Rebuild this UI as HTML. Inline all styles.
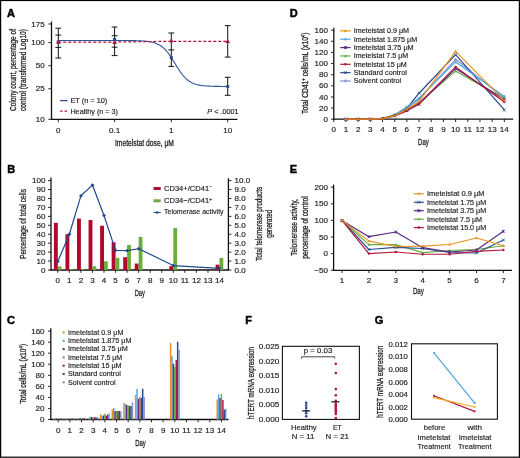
<!DOCTYPE html>
<html><head><meta charset="utf-8"><style>
html,body{margin:0;padding:0;background:#fff;}
svg{display:block;}
text{font-family:"Liberation Sans", sans-serif;fill:#1e1e1e;stroke:#1e1e1e;stroke-width:0.16px;}
svg{will-change:transform;}
text.c{stroke-width:0.3px;}
</style></head><body>
<svg width="520" height="458" viewBox="0 0 520 458">
<rect x="0" y="0" width="520" height="458" fill="#fff"/>
<text x="6.90" y="16.70" font-size="11" font-weight="bold" style="fill:#000;stroke:#000;stroke-width:0.45px">A</text>
<line x1="51.50" y1="21.50" x2="51.50" y2="119.80" stroke="#111" stroke-width="1.3" />
<line x1="50.90" y1="119.30" x2="237.40" y2="119.30" stroke="#111" stroke-width="1.3" />
<line x1="48.30" y1="23.96" x2="51.50" y2="23.96" stroke="#111" stroke-width="0.9" />
<text x="44.70" y="26.66" font-size="7.6" text-anchor="end" textLength="13.44" lengthAdjust="spacingAndGlyphs">175</text>
<line x1="48.30" y1="42.60" x2="51.50" y2="42.60" stroke="#111" stroke-width="0.9" />
<text x="44.70" y="45.30" font-size="7.6" text-anchor="end" textLength="13.44" lengthAdjust="spacingAndGlyphs">100</text>
<line x1="48.30" y1="65.69" x2="51.50" y2="65.69" stroke="#111" stroke-width="0.9" />
<text x="44.70" y="68.39" font-size="7.6" text-anchor="end" textLength="8.96" lengthAdjust="spacingAndGlyphs">50</text>
<line x1="48.30" y1="88.78" x2="51.50" y2="88.78" stroke="#111" stroke-width="0.9" />
<text x="44.70" y="91.48" font-size="7.6" text-anchor="end" textLength="8.96" lengthAdjust="spacingAndGlyphs">25</text>
<line x1="48.30" y1="119.30" x2="51.50" y2="119.30" stroke="#111" stroke-width="0.9" />
<text x="44.70" y="122.00" font-size="7.6" text-anchor="end" textLength="8.96" lengthAdjust="spacingAndGlyphs">10</text>
<line x1="58.30" y1="119.30" x2="58.30" y2="122.30" stroke="#111" stroke-width="0.9" />
<text x="58.30" y="132.70" font-size="7.6" text-anchor="middle" textLength="4.48" lengthAdjust="spacingAndGlyphs">0</text>
<line x1="114.60" y1="119.30" x2="114.60" y2="122.30" stroke="#111" stroke-width="0.9" />
<text x="114.60" y="132.70" font-size="7.6" text-anchor="middle" textLength="11.20" lengthAdjust="spacingAndGlyphs">0.1</text>
<line x1="171.30" y1="119.30" x2="171.30" y2="122.30" stroke="#111" stroke-width="0.9" />
<text x="171.30" y="132.70" font-size="7.6" text-anchor="middle" textLength="4.48" lengthAdjust="spacingAndGlyphs">1</text>
<line x1="227.70" y1="119.30" x2="227.70" y2="122.30" stroke="#111" stroke-width="0.9" />
<text x="227.70" y="132.70" font-size="7.6" text-anchor="middle" textLength="8.96" lengthAdjust="spacingAndGlyphs">10</text>
<text x="114.90" y="145.80" font-size="9.6" class="c" textLength="59.00" lengthAdjust="spacingAndGlyphs">Imetelstat dose, &#956;M</text>
<text class="c" transform="translate(15.60,70.00) rotate(-90)" x="0" y="0" font-size="9.4" text-anchor="middle" textLength="82.00" lengthAdjust="spacingAndGlyphs" fill="#222">Colony count, percentage of</text>
<text class="c" transform="translate(26.10,70.00) rotate(-90)" x="0" y="0" font-size="9.4" text-anchor="middle" textLength="82.00" lengthAdjust="spacingAndGlyphs" fill="#222">control (transformed Log10)</text>
<line x1="58.30" y1="28.20" x2="58.30" y2="58.00" stroke="#111" stroke-width="1.0" />
<line x1="55.40" y1="28.20" x2="61.20" y2="28.20" stroke="#111" stroke-width="1.0" />
<line x1="55.40" y1="35.10" x2="61.20" y2="35.10" stroke="#111" stroke-width="1.0" />
<line x1="55.40" y1="47.40" x2="61.20" y2="47.40" stroke="#111" stroke-width="1.0" />
<line x1="55.40" y1="58.00" x2="61.20" y2="58.00" stroke="#111" stroke-width="1.0" />
<line x1="114.60" y1="27.00" x2="114.60" y2="55.60" stroke="#111" stroke-width="1.0" />
<line x1="111.70" y1="27.00" x2="117.50" y2="27.00" stroke="#111" stroke-width="1.0" />
<line x1="111.70" y1="35.70" x2="117.50" y2="35.70" stroke="#111" stroke-width="1.0" />
<line x1="111.70" y1="47.20" x2="117.50" y2="47.20" stroke="#111" stroke-width="1.0" />
<line x1="111.70" y1="55.60" x2="117.50" y2="55.60" stroke="#111" stroke-width="1.0" />
<line x1="171.30" y1="33.00" x2="171.30" y2="66.40" stroke="#111" stroke-width="1.0" />
<line x1="168.40" y1="33.00" x2="174.20" y2="33.00" stroke="#111" stroke-width="1.0" />
<line x1="168.40" y1="49.90" x2="174.20" y2="49.90" stroke="#111" stroke-width="1.0" />
<line x1="168.40" y1="66.40" x2="174.20" y2="66.40" stroke="#111" stroke-width="1.0" />
<line x1="227.70" y1="25.60" x2="227.70" y2="57.10" stroke="#111" stroke-width="1.0" />
<line x1="224.80" y1="25.60" x2="230.60" y2="25.60" stroke="#111" stroke-width="1.0" />
<line x1="224.80" y1="57.10" x2="230.60" y2="57.10" stroke="#111" stroke-width="1.0" />
<line x1="227.70" y1="77.30" x2="227.70" y2="95.30" stroke="#111" stroke-width="1.0" />
<line x1="224.80" y1="77.30" x2="230.60" y2="77.30" stroke="#111" stroke-width="1.0" />
<line x1="224.80" y1="95.30" x2="230.60" y2="95.30" stroke="#111" stroke-width="1.0" />
<polyline points="58.30,40.50 59.30,40.50 60.30,40.50 61.30,40.50 62.30,40.50 63.30,40.50 64.30,40.50 65.30,40.50 66.30,40.50 67.30,40.50 68.30,40.50 69.30,40.50 70.30,40.50 71.30,40.50 72.30,40.50 73.30,40.50 74.30,40.50 75.30,40.50 76.30,40.50 77.30,40.50 78.30,40.50 79.30,40.50 80.30,40.50 81.30,40.50 82.30,40.50 83.30,40.50 84.30,40.50 85.30,40.50 86.30,40.50 87.30,40.50 88.30,40.50 89.30,40.50 90.30,40.50 91.30,40.50 92.30,40.50 93.30,40.50 94.30,40.50 95.30,40.50 96.30,40.50 97.30,40.50 98.30,40.50 99.30,40.50 100.30,40.50 101.30,40.50 102.30,40.50 103.30,40.50 104.30,40.50 105.30,40.50 106.30,40.50 107.30,40.50 108.30,40.50 109.30,40.50 110.30,40.50 111.30,40.51 112.30,40.51 113.30,40.51 114.30,40.51 115.30,40.51 116.30,40.51 117.30,40.51 118.30,40.51 119.30,40.52 120.30,40.52 121.30,40.52 122.30,40.52 123.30,40.53 124.30,40.53 125.30,40.54 126.30,40.54 127.30,40.55 128.30,40.56 129.30,40.57 130.30,40.58 131.30,40.59 132.30,40.60 133.30,40.62 134.30,40.64 135.30,40.66 136.30,40.68 137.30,40.71 138.30,40.74 139.30,40.78 140.30,40.82 141.30,40.87 142.30,40.93 143.30,40.99 144.30,41.07 145.30,41.15 146.30,41.25 147.30,41.36 148.30,41.49 149.30,41.64 150.30,41.81 151.30,42.01 152.30,42.23 153.30,42.48 154.30,42.77 155.30,43.10 156.30,43.48 157.30,43.90 158.30,44.38 159.30,44.91 160.30,45.52 161.30,46.19 162.30,46.95 163.30,47.78 164.30,48.70 165.30,49.70 166.30,50.80 167.30,51.99 168.30,53.26 169.30,54.62 170.30,56.06 171.30,57.56 172.30,59.12 173.30,60.72 174.30,62.35 175.30,63.99 176.30,65.63 177.30,67.24 178.30,68.82 179.30,70.35 180.30,71.81 181.30,73.20 182.30,74.51 183.30,75.73 184.30,76.87 185.30,77.91 186.30,78.86 187.30,79.73 188.30,80.52 189.30,81.22 190.30,81.85 191.30,82.42 192.30,82.92 193.30,83.36 194.30,83.75 195.30,84.10 196.30,84.41 197.30,84.67 198.30,84.91 199.30,85.11 200.30,85.29 201.30,85.45 202.30,85.59 203.30,85.71 204.30,85.81 205.30,85.90 206.30,85.98 207.30,86.05 208.30,86.11 209.30,86.16 210.30,86.20 211.30,86.24 212.30,86.28 213.30,86.31 214.30,86.33 215.30,86.36 216.30,86.37 217.30,86.39 218.30,86.41 219.30,86.42 220.30,86.43 221.30,86.44 222.30,86.45 223.30,86.45 224.30,86.46 225.30,86.47 226.30,86.47 227.30,86.47 227.70,86.48" fill="none" stroke="#2f55a0" stroke-width="1.1" stroke-linejoin="round" />
<polyline points="58.30,42.00 114.60,42.00 171.30,41.30 227.70,41.30" fill="none" stroke="#a8123c" stroke-width="1.25" stroke-linejoin="round" stroke-dasharray="3,2"/>
<rect x="56.70" y="40.30" width="3.2" height="3.2" rx="0.8" fill="#2a4f96"/>
<rect x="113.00" y="37.70" width="3.2" height="3.2" rx="0.8" fill="#2a4f96"/>
<rect x="169.70" y="56.00" width="3.2" height="3.2" rx="0.8" fill="#2a4f96"/>
<rect x="226.10" y="84.90" width="3.2" height="3.2" rx="0.8" fill="#2a4f96"/>
<path d="M56.00,43.80L60.60,43.80L58.30,39.90Z" fill="#b5123a"/>
<path d="M112.30,44.00L116.90,44.00L114.60,40.10Z" fill="#b5123a"/>
<path d="M169.00,42.20L173.60,42.20L171.30,38.30Z" fill="#b5123a"/>
<path d="M225.40,43.00L230.00,43.00L227.70,39.10Z" fill="#b5123a"/>
<line x1="60.10" y1="100.60" x2="67.60" y2="100.60" stroke="#2a4f96" stroke-width="1.3" />
<line x1="60.10" y1="111.20" x2="67.60" y2="111.20" stroke="#b8173d" stroke-width="1.3" stroke-dasharray="2.6,1.8"/>
<text x="70.40" y="102.90" font-size="7.3" textLength="36.90" lengthAdjust="spacingAndGlyphs">ET (n = 10)</text>
<text x="70.40" y="113.80" font-size="7.3" textLength="47.60" lengthAdjust="spacingAndGlyphs">Healthy (n = 3)</text>
<text x="207.30" y="113.50" font-size="7.3" textLength="31.20" lengthAdjust="spacingAndGlyphs"><tspan font-style="italic">P</tspan> &lt; .0001</text>
<text x="289.70" y="16.70" font-size="11" font-weight="bold" style="fill:#000;stroke:#000;stroke-width:0.45px">D</text>
<line x1="333.80" y1="27.70" x2="333.80" y2="119.70" stroke="#111" stroke-width="1.3" />
<line x1="333.30" y1="119.20" x2="513.20" y2="119.20" stroke="#111" stroke-width="1.3" />
<line x1="331.00" y1="119.20" x2="333.80" y2="119.20" stroke="#111" stroke-width="0.9" />
<text x="328.00" y="121.80" font-size="7.6" text-anchor="end" textLength="4.48" lengthAdjust="spacingAndGlyphs">0</text>
<line x1="331.00" y1="108.07" x2="333.80" y2="108.07" stroke="#111" stroke-width="0.9" />
<text x="328.00" y="110.67" font-size="7.6" text-anchor="end" textLength="8.96" lengthAdjust="spacingAndGlyphs">20</text>
<line x1="331.00" y1="96.95" x2="333.80" y2="96.95" stroke="#111" stroke-width="0.9" />
<text x="328.00" y="99.55" font-size="7.6" text-anchor="end" textLength="8.96" lengthAdjust="spacingAndGlyphs">40</text>
<line x1="331.00" y1="85.82" x2="333.80" y2="85.82" stroke="#111" stroke-width="0.9" />
<text x="328.00" y="88.42" font-size="7.6" text-anchor="end" textLength="8.96" lengthAdjust="spacingAndGlyphs">60</text>
<line x1="331.00" y1="74.70" x2="333.80" y2="74.70" stroke="#111" stroke-width="0.9" />
<text x="328.00" y="77.30" font-size="7.6" text-anchor="end" textLength="8.96" lengthAdjust="spacingAndGlyphs">80</text>
<line x1="331.00" y1="63.57" x2="333.80" y2="63.57" stroke="#111" stroke-width="0.9" />
<text x="328.00" y="66.17" font-size="7.6" text-anchor="end" textLength="13.44" lengthAdjust="spacingAndGlyphs">100</text>
<line x1="331.00" y1="52.44" x2="333.80" y2="52.44" stroke="#111" stroke-width="0.9" />
<text x="328.00" y="55.04" font-size="7.6" text-anchor="end" textLength="13.44" lengthAdjust="spacingAndGlyphs">120</text>
<line x1="331.00" y1="41.32" x2="333.80" y2="41.32" stroke="#111" stroke-width="0.9" />
<text x="328.00" y="43.92" font-size="7.6" text-anchor="end" textLength="13.44" lengthAdjust="spacingAndGlyphs">140</text>
<line x1="331.00" y1="30.19" x2="333.80" y2="30.19" stroke="#111" stroke-width="0.9" />
<text x="328.00" y="32.79" font-size="7.6" text-anchor="end" textLength="13.44" lengthAdjust="spacingAndGlyphs">160</text>
<line x1="333.80" y1="119.20" x2="333.80" y2="122.00" stroke="#111" stroke-width="0.9" />
<text x="333.80" y="132.30" font-size="7.6" text-anchor="middle" textLength="4.48" lengthAdjust="spacingAndGlyphs">0</text>
<line x1="345.98" y1="119.20" x2="345.98" y2="122.00" stroke="#111" stroke-width="0.9" />
<text x="345.98" y="132.30" font-size="7.6" text-anchor="middle" textLength="4.48" lengthAdjust="spacingAndGlyphs">1</text>
<line x1="358.16" y1="119.20" x2="358.16" y2="122.00" stroke="#111" stroke-width="0.9" />
<text x="358.16" y="132.30" font-size="7.6" text-anchor="middle" textLength="4.48" lengthAdjust="spacingAndGlyphs">2</text>
<line x1="370.34" y1="119.20" x2="370.34" y2="122.00" stroke="#111" stroke-width="0.9" />
<text x="370.34" y="132.30" font-size="7.6" text-anchor="middle" textLength="4.48" lengthAdjust="spacingAndGlyphs">3</text>
<line x1="382.52" y1="119.20" x2="382.52" y2="122.00" stroke="#111" stroke-width="0.9" />
<text x="382.52" y="132.30" font-size="7.6" text-anchor="middle" textLength="4.48" lengthAdjust="spacingAndGlyphs">4</text>
<line x1="394.70" y1="119.20" x2="394.70" y2="122.00" stroke="#111" stroke-width="0.9" />
<text x="394.70" y="132.30" font-size="7.6" text-anchor="middle" textLength="4.48" lengthAdjust="spacingAndGlyphs">5</text>
<line x1="406.88" y1="119.20" x2="406.88" y2="122.00" stroke="#111" stroke-width="0.9" />
<text x="406.88" y="132.30" font-size="7.6" text-anchor="middle" textLength="4.48" lengthAdjust="spacingAndGlyphs">6</text>
<line x1="419.06" y1="119.20" x2="419.06" y2="122.00" stroke="#111" stroke-width="0.9" />
<text x="419.06" y="132.30" font-size="7.6" text-anchor="middle" textLength="4.48" lengthAdjust="spacingAndGlyphs">7</text>
<line x1="431.24" y1="119.20" x2="431.24" y2="122.00" stroke="#111" stroke-width="0.9" />
<text x="431.24" y="132.30" font-size="7.6" text-anchor="middle" textLength="4.48" lengthAdjust="spacingAndGlyphs">8</text>
<line x1="443.42" y1="119.20" x2="443.42" y2="122.00" stroke="#111" stroke-width="0.9" />
<text x="443.42" y="132.30" font-size="7.6" text-anchor="middle" textLength="4.48" lengthAdjust="spacingAndGlyphs">9</text>
<line x1="455.60" y1="119.20" x2="455.60" y2="122.00" stroke="#111" stroke-width="0.9" />
<text x="455.60" y="132.30" font-size="7.6" text-anchor="middle" textLength="8.96" lengthAdjust="spacingAndGlyphs">10</text>
<line x1="467.78" y1="119.20" x2="467.78" y2="122.00" stroke="#111" stroke-width="0.9" />
<text x="467.78" y="132.30" font-size="7.6" text-anchor="middle" textLength="8.36" lengthAdjust="spacingAndGlyphs">11</text>
<line x1="479.96" y1="119.20" x2="479.96" y2="122.00" stroke="#111" stroke-width="0.9" />
<text x="479.96" y="132.30" font-size="7.6" text-anchor="middle" textLength="8.96" lengthAdjust="spacingAndGlyphs">12</text>
<line x1="492.14" y1="119.20" x2="492.14" y2="122.00" stroke="#111" stroke-width="0.9" />
<text x="492.14" y="132.30" font-size="7.6" text-anchor="middle" textLength="8.96" lengthAdjust="spacingAndGlyphs">13</text>
<line x1="504.32" y1="119.20" x2="504.32" y2="122.00" stroke="#111" stroke-width="0.9" />
<text x="504.32" y="132.30" font-size="7.6" text-anchor="middle" textLength="8.96" lengthAdjust="spacingAndGlyphs">14</text>
<text x="418.00" y="145.40" font-size="9.8" class="c" textLength="10.80" lengthAdjust="spacingAndGlyphs">Day</text>
<text class="c" transform="translate(308.30,73.20) rotate(-90)" x="0" y="0" font-size="9.4" text-anchor="middle" textLength="81.40" lengthAdjust="spacingAndGlyphs" fill="#222">Total CD41<tspan dy="-3" font-size="6">+</tspan><tspan dy="3"> cells/mL (x10</tspan><tspan dy="-3" font-size="6">4</tspan><tspan dy="3">)</tspan></text>
<polyline points="345.98,119.20 358.16,119.20 370.34,119.20 382.52,118.64 394.70,114.75 406.88,108.07 419.06,99.17 455.60,59.34 504.32,98.06" fill="none" stroke="#8290cc" stroke-width="1.2" stroke-linejoin="round" />
<polyline points="345.98,119.20 358.16,119.20 370.34,119.20 382.52,118.64 394.70,115.31 406.88,108.07 419.06,93.22 455.60,54.67 504.32,109.97" fill="none" stroke="#27488c" stroke-width="1.2" stroke-linejoin="round" />
<polyline points="345.98,119.20 358.16,119.20 370.34,119.20 382.52,118.64 394.70,114.75 406.88,106.96 419.06,98.06 455.60,61.90 504.32,96.39" fill="none" stroke="#4ea6e2" stroke-width="1.2" stroke-linejoin="round" />
<polyline points="345.98,119.20 358.16,119.20 370.34,119.20 382.52,118.64 394.70,115.31 406.88,109.19 419.06,102.51 455.60,71.08 504.32,98.62" fill="none" stroke="#5fae3c" stroke-width="1.2" stroke-linejoin="round" />
<polyline points="345.98,119.20 358.16,119.20 370.34,119.20 382.52,118.64 394.70,115.86 406.88,110.30 419.06,104.18 455.60,68.58 504.32,99.73" fill="none" stroke="#5a2a84" stroke-width="1.2" stroke-linejoin="round" />
<polyline points="345.98,119.20 358.16,119.20 370.34,119.20 382.52,118.64 394.70,115.86 406.88,110.86 419.06,103.62 455.60,66.91 504.32,101.95" fill="none" stroke="#b3173d" stroke-width="1.2" stroke-linejoin="round" />
<polyline points="345.98,119.20 358.16,119.20 370.34,119.20 382.52,118.64 394.70,115.86 406.88,109.19 419.06,101.40 455.60,51.33 504.32,100.56" fill="none" stroke="#e9931f" stroke-width="1.2" stroke-linejoin="round" />
<path d="M344.58,119.20H347.38M345.98,117.80V120.60" stroke="#8290cc" stroke-width="0.9"/>
<path d="M356.76,119.20H359.56M358.16,117.80V120.60" stroke="#8290cc" stroke-width="0.9"/>
<path d="M368.94,119.20H371.74M370.34,117.80V120.60" stroke="#8290cc" stroke-width="0.9"/>
<path d="M381.12,118.64H383.92M382.52,117.24V120.04" stroke="#8290cc" stroke-width="0.9"/>
<path d="M393.30,114.75H396.10M394.70,113.35V116.15" stroke="#8290cc" stroke-width="0.9"/>
<path d="M405.48,108.07H408.28M406.88,106.67V109.47" stroke="#8290cc" stroke-width="0.9"/>
<path d="M417.66,99.17H420.46M419.06,97.77V100.57" stroke="#8290cc" stroke-width="0.9"/>
<path d="M454.20,59.34H457.00M455.60,57.94V60.74" stroke="#8290cc" stroke-width="0.9"/>
<path d="M502.92,98.06H505.72M504.32,96.66V99.46" stroke="#8290cc" stroke-width="0.9"/>
<path d="M344.58,117.80L347.38,120.60M344.58,120.60L347.38,117.80" stroke="#27488c" stroke-width="0.9"/>
<path d="M356.76,117.80L359.56,120.60M356.76,120.60L359.56,117.80" stroke="#27488c" stroke-width="0.9"/>
<path d="M368.94,117.80L371.74,120.60M368.94,120.60L371.74,117.80" stroke="#27488c" stroke-width="0.9"/>
<path d="M381.12,117.24L383.92,120.04M381.12,120.04L383.92,117.24" stroke="#27488c" stroke-width="0.9"/>
<path d="M393.30,113.91L396.10,116.71M393.30,116.71L396.10,113.91" stroke="#27488c" stroke-width="0.9"/>
<path d="M405.48,106.67L408.28,109.47M405.48,109.47L408.28,106.67" stroke="#27488c" stroke-width="0.9"/>
<path d="M417.66,91.82L420.46,94.62M417.66,94.62L420.46,91.82" stroke="#27488c" stroke-width="0.9"/>
<path d="M454.20,53.27L457.00,56.07M454.20,56.07L457.00,53.27" stroke="#27488c" stroke-width="0.9"/>
<path d="M502.92,108.57L505.72,111.37M502.92,111.37L505.72,108.57" stroke="#27488c" stroke-width="0.9"/>
<path d="M344.58,119.20H347.38M345.98,117.80V120.60" stroke="#4ea6e2" stroke-width="0.9"/>
<path d="M356.76,119.20H359.56M358.16,117.80V120.60" stroke="#4ea6e2" stroke-width="0.9"/>
<path d="M368.94,119.20H371.74M370.34,117.80V120.60" stroke="#4ea6e2" stroke-width="0.9"/>
<path d="M381.12,118.64H383.92M382.52,117.24V120.04" stroke="#4ea6e2" stroke-width="0.9"/>
<path d="M393.30,114.75H396.10M394.70,113.35V116.15" stroke="#4ea6e2" stroke-width="0.9"/>
<path d="M405.48,106.96H408.28M406.88,105.56V108.36" stroke="#4ea6e2" stroke-width="0.9"/>
<path d="M417.66,98.06H420.46M419.06,96.66V99.46" stroke="#4ea6e2" stroke-width="0.9"/>
<path d="M454.20,61.90H457.00M455.60,60.50V63.30" stroke="#4ea6e2" stroke-width="0.9"/>
<path d="M502.92,96.39H505.72M504.32,94.99V97.79" stroke="#4ea6e2" stroke-width="0.9"/>
<path d="M344.58,120.32L347.38,120.32L345.98,117.80Z" fill="#5fae3c"/>
<path d="M356.76,120.32L359.56,120.32L358.16,117.80Z" fill="#5fae3c"/>
<path d="M368.94,120.32L371.74,120.32L370.34,117.80Z" fill="#5fae3c"/>
<path d="M381.12,119.76L383.92,119.76L382.52,117.24Z" fill="#5fae3c"/>
<path d="M393.30,116.43L396.10,116.43L394.70,113.91Z" fill="#5fae3c"/>
<path d="M405.48,110.31L408.28,110.31L406.88,107.79Z" fill="#5fae3c"/>
<path d="M417.66,103.63L420.46,103.63L419.06,101.11Z" fill="#5fae3c"/>
<path d="M454.20,72.20L457.00,72.20L455.60,69.68Z" fill="#5fae3c"/>
<path d="M502.92,99.74L505.72,99.74L504.32,97.22Z" fill="#5fae3c"/>
<path d="M344.58,117.80L347.38,120.60M344.58,120.60L347.38,117.80M345.98,117.80V120.60" stroke="#5a2a84" stroke-width="0.9"/>
<path d="M356.76,117.80L359.56,120.60M356.76,120.60L359.56,117.80M358.16,117.80V120.60" stroke="#5a2a84" stroke-width="0.9"/>
<path d="M368.94,117.80L371.74,120.60M368.94,120.60L371.74,117.80M370.34,117.80V120.60" stroke="#5a2a84" stroke-width="0.9"/>
<path d="M381.12,117.24L383.92,120.04M381.12,120.04L383.92,117.24M382.52,117.24V120.04" stroke="#5a2a84" stroke-width="0.9"/>
<path d="M393.30,114.46L396.10,117.26M393.30,117.26L396.10,114.46M394.70,114.46V117.26" stroke="#5a2a84" stroke-width="0.9"/>
<path d="M405.48,108.90L408.28,111.70M405.48,111.70L408.28,108.90M406.88,108.90V111.70" stroke="#5a2a84" stroke-width="0.9"/>
<path d="M417.66,102.78L420.46,105.58M417.66,105.58L420.46,102.78M419.06,102.78V105.58" stroke="#5a2a84" stroke-width="0.9"/>
<path d="M454.20,67.18L457.00,69.98M454.20,69.98L457.00,67.18M455.60,67.18V69.98" stroke="#5a2a84" stroke-width="0.9"/>
<path d="M502.92,98.33L505.72,101.13M502.92,101.13L505.72,98.33M504.32,98.33V101.13" stroke="#5a2a84" stroke-width="0.9"/>
<circle cx="345.98" cy="119.20" r="1.19" fill="#b3173d"/>
<circle cx="358.16" cy="119.20" r="1.19" fill="#b3173d"/>
<circle cx="370.34" cy="119.20" r="1.19" fill="#b3173d"/>
<circle cx="382.52" cy="118.64" r="1.19" fill="#b3173d"/>
<circle cx="394.70" cy="115.86" r="1.19" fill="#b3173d"/>
<circle cx="406.88" cy="110.86" r="1.19" fill="#b3173d"/>
<circle cx="419.06" cy="103.62" r="1.19" fill="#b3173d"/>
<circle cx="455.60" cy="66.91" r="1.19" fill="#b3173d"/>
<circle cx="504.32" cy="101.95" r="1.19" fill="#b3173d"/>
<path d="M344.58,119.20L345.98,117.80L347.38,119.20L345.98,120.60Z" fill="#e9931f"/>
<path d="M356.76,119.20L358.16,117.80L359.56,119.20L358.16,120.60Z" fill="#e9931f"/>
<path d="M368.94,119.20L370.34,117.80L371.74,119.20L370.34,120.60Z" fill="#e9931f"/>
<path d="M381.12,118.64L382.52,117.24L383.92,118.64L382.52,120.04Z" fill="#e9931f"/>
<path d="M393.30,115.86L394.70,114.46L396.10,115.86L394.70,117.26Z" fill="#e9931f"/>
<path d="M405.48,109.19L406.88,107.79L408.28,109.19L406.88,110.59Z" fill="#e9931f"/>
<path d="M417.66,101.40L419.06,100.00L420.46,101.40L419.06,102.80Z" fill="#e9931f"/>
<path d="M454.20,51.33L455.60,49.93L457.00,51.33L455.60,52.73Z" fill="#e9931f"/>
<path d="M502.92,100.56L504.32,99.16L505.72,100.56L504.32,101.96Z" fill="#e9931f"/>
<line x1="340.20" y1="30.90" x2="350.60" y2="30.90" stroke="#e9931f" stroke-width="1.2" />
<path d="M343.90,30.90L345.40,29.40L346.90,30.90L345.40,32.40Z" fill="#e9931f"/>
<text x="353.70" y="33.30" font-size="7.5" textLength="55.40" lengthAdjust="spacingAndGlyphs">Imetelstat 0.9 &#956;M</text>
<line x1="340.20" y1="39.25" x2="350.60" y2="39.25" stroke="#4ea6e2" stroke-width="1.2" />
<path d="M343.90,39.25H346.90M345.40,37.75V40.75" stroke="#4ea6e2" stroke-width="0.9"/>
<text x="353.70" y="41.65" font-size="7.5" textLength="63.50" lengthAdjust="spacingAndGlyphs">Imetelstat 1.875 &#956;M</text>
<line x1="340.20" y1="47.60" x2="350.60" y2="47.60" stroke="#5a2a84" stroke-width="1.2" />
<path d="M343.90,46.10L346.90,49.10M343.90,49.10L346.90,46.10M345.40,46.10V49.10" stroke="#5a2a84" stroke-width="0.9"/>
<text x="353.70" y="50.00" font-size="7.5" textLength="60.00" lengthAdjust="spacingAndGlyphs">Imetelstat 3.75 &#956;M</text>
<line x1="340.20" y1="55.95" x2="350.60" y2="55.95" stroke="#5fae3c" stroke-width="1.2" />
<path d="M343.90,57.15L346.90,57.15L345.40,54.45Z" fill="#5fae3c"/>
<text x="353.70" y="58.35" font-size="7.5" textLength="54.50" lengthAdjust="spacingAndGlyphs">Imetelstat 7.5 &#956;M</text>
<line x1="340.20" y1="64.30" x2="350.60" y2="64.30" stroke="#b3173d" stroke-width="1.2" />
<circle cx="345.40" cy="64.30" r="1.27" fill="#b3173d"/>
<text x="353.70" y="66.70" font-size="7.5" textLength="53.10" lengthAdjust="spacingAndGlyphs">Imetelstat 15 &#956;M</text>
<line x1="340.20" y1="72.65" x2="350.60" y2="72.65" stroke="#27488c" stroke-width="1.2" />
<path d="M343.90,71.15L346.90,74.15M343.90,74.15L346.90,71.15" stroke="#27488c" stroke-width="0.9"/>
<text x="353.70" y="75.05" font-size="7.5" textLength="53.10" lengthAdjust="spacingAndGlyphs">Standard control</text>
<line x1="340.20" y1="81.00" x2="350.60" y2="81.00" stroke="#8290cc" stroke-width="1.2" />
<path d="M343.90,81.00H346.90M345.40,79.50V82.50" stroke="#8290cc" stroke-width="0.9"/>
<text x="353.70" y="83.40" font-size="7.5" textLength="47.50" lengthAdjust="spacingAndGlyphs">Solvent control</text>
<text x="7.30" y="173.10" font-size="11" font-weight="bold" style="fill:#000;stroke:#000;stroke-width:0.45px">B</text>
<line x1="51.00" y1="177.40" x2="51.00" y2="270.50" stroke="#111" stroke-width="1.3" />
<line x1="50.50" y1="270.00" x2="228.90" y2="270.00" stroke="#111" stroke-width="1.3" />
<line x1="228.40" y1="178.30" x2="228.40" y2="270.50" stroke="#111" stroke-width="1.3" />
<line x1="48.00" y1="270.00" x2="51.00" y2="270.00" stroke="#111" stroke-width="0.9" />
<text x="45.40" y="272.60" font-size="7.6" text-anchor="end" textLength="4.48" lengthAdjust="spacingAndGlyphs">0</text>
<line x1="228.40" y1="270.00" x2="231.40" y2="270.00" stroke="#111" stroke-width="0.9" />
<text x="234.60" y="272.60" font-size="7.6" textLength="11.20" lengthAdjust="spacingAndGlyphs">0.0</text>
<line x1="48.00" y1="261.06" x2="51.00" y2="261.06" stroke="#111" stroke-width="0.9" />
<text x="45.40" y="263.66" font-size="7.6" text-anchor="end" textLength="8.96" lengthAdjust="spacingAndGlyphs">10</text>
<line x1="228.40" y1="261.06" x2="231.40" y2="261.06" stroke="#111" stroke-width="0.9" />
<text x="234.60" y="263.66" font-size="7.6" textLength="11.20" lengthAdjust="spacingAndGlyphs">1.0</text>
<line x1="48.00" y1="252.12" x2="51.00" y2="252.12" stroke="#111" stroke-width="0.9" />
<text x="45.40" y="254.72" font-size="7.6" text-anchor="end" textLength="8.96" lengthAdjust="spacingAndGlyphs">20</text>
<line x1="228.40" y1="252.12" x2="231.40" y2="252.12" stroke="#111" stroke-width="0.9" />
<text x="234.60" y="254.72" font-size="7.6" textLength="11.20" lengthAdjust="spacingAndGlyphs">2.0</text>
<line x1="48.00" y1="243.18" x2="51.00" y2="243.18" stroke="#111" stroke-width="0.9" />
<text x="45.40" y="245.78" font-size="7.6" text-anchor="end" textLength="8.96" lengthAdjust="spacingAndGlyphs">30</text>
<line x1="228.40" y1="243.18" x2="231.40" y2="243.18" stroke="#111" stroke-width="0.9" />
<text x="234.60" y="245.78" font-size="7.6" textLength="11.20" lengthAdjust="spacingAndGlyphs">3.0</text>
<line x1="48.00" y1="234.24" x2="51.00" y2="234.24" stroke="#111" stroke-width="0.9" />
<text x="45.40" y="236.84" font-size="7.6" text-anchor="end" textLength="8.96" lengthAdjust="spacingAndGlyphs">40</text>
<line x1="228.40" y1="234.24" x2="231.40" y2="234.24" stroke="#111" stroke-width="0.9" />
<text x="234.60" y="236.84" font-size="7.6" textLength="11.20" lengthAdjust="spacingAndGlyphs">4.0</text>
<line x1="48.00" y1="225.30" x2="51.00" y2="225.30" stroke="#111" stroke-width="0.9" />
<text x="45.40" y="227.90" font-size="7.6" text-anchor="end" textLength="8.96" lengthAdjust="spacingAndGlyphs">50</text>
<line x1="228.40" y1="225.30" x2="231.40" y2="225.30" stroke="#111" stroke-width="0.9" />
<text x="234.60" y="227.90" font-size="7.6" textLength="11.20" lengthAdjust="spacingAndGlyphs">5.0</text>
<line x1="48.00" y1="216.36" x2="51.00" y2="216.36" stroke="#111" stroke-width="0.9" />
<text x="45.40" y="218.96" font-size="7.6" text-anchor="end" textLength="8.96" lengthAdjust="spacingAndGlyphs">60</text>
<line x1="228.40" y1="216.36" x2="231.40" y2="216.36" stroke="#111" stroke-width="0.9" />
<text x="234.60" y="218.96" font-size="7.6" textLength="11.20" lengthAdjust="spacingAndGlyphs">6.0</text>
<line x1="48.00" y1="207.42" x2="51.00" y2="207.42" stroke="#111" stroke-width="0.9" />
<text x="45.40" y="210.02" font-size="7.6" text-anchor="end" textLength="8.96" lengthAdjust="spacingAndGlyphs">70</text>
<line x1="228.40" y1="207.42" x2="231.40" y2="207.42" stroke="#111" stroke-width="0.9" />
<text x="234.60" y="210.02" font-size="7.6" textLength="11.20" lengthAdjust="spacingAndGlyphs">7.0</text>
<line x1="48.00" y1="198.48" x2="51.00" y2="198.48" stroke="#111" stroke-width="0.9" />
<text x="45.40" y="201.08" font-size="7.6" text-anchor="end" textLength="8.96" lengthAdjust="spacingAndGlyphs">80</text>
<line x1="228.40" y1="198.48" x2="231.40" y2="198.48" stroke="#111" stroke-width="0.9" />
<text x="234.60" y="201.08" font-size="7.6" textLength="11.20" lengthAdjust="spacingAndGlyphs">8.0</text>
<line x1="48.00" y1="189.54" x2="51.00" y2="189.54" stroke="#111" stroke-width="0.9" />
<text x="45.40" y="192.14" font-size="7.6" text-anchor="end" textLength="8.96" lengthAdjust="spacingAndGlyphs">90</text>
<line x1="228.40" y1="189.54" x2="231.40" y2="189.54" stroke="#111" stroke-width="0.9" />
<text x="234.60" y="192.14" font-size="7.6" textLength="11.20" lengthAdjust="spacingAndGlyphs">9.0</text>
<line x1="48.00" y1="180.60" x2="51.00" y2="180.60" stroke="#111" stroke-width="0.9" />
<text x="45.40" y="183.20" font-size="7.6" text-anchor="end" textLength="13.44" lengthAdjust="spacingAndGlyphs">100</text>
<line x1="228.40" y1="180.60" x2="231.40" y2="180.60" stroke="#111" stroke-width="0.9" />
<text x="234.60" y="183.20" font-size="7.6" textLength="15.68" lengthAdjust="spacingAndGlyphs">10.0</text>
<line x1="57.80" y1="270.00" x2="57.80" y2="272.80" stroke="#111" stroke-width="0.9" />
<text x="57.80" y="283.30" font-size="7.6" text-anchor="middle" textLength="4.48" lengthAdjust="spacingAndGlyphs">0</text>
<line x1="69.35" y1="270.00" x2="69.35" y2="272.80" stroke="#111" stroke-width="0.9" />
<text x="69.35" y="283.30" font-size="7.6" text-anchor="middle" textLength="4.48" lengthAdjust="spacingAndGlyphs">1</text>
<line x1="80.90" y1="270.00" x2="80.90" y2="272.80" stroke="#111" stroke-width="0.9" />
<text x="80.90" y="283.30" font-size="7.6" text-anchor="middle" textLength="4.48" lengthAdjust="spacingAndGlyphs">2</text>
<line x1="92.45" y1="270.00" x2="92.45" y2="272.80" stroke="#111" stroke-width="0.9" />
<text x="92.45" y="283.30" font-size="7.6" text-anchor="middle" textLength="4.48" lengthAdjust="spacingAndGlyphs">3</text>
<line x1="104.00" y1="270.00" x2="104.00" y2="272.80" stroke="#111" stroke-width="0.9" />
<text x="104.00" y="283.30" font-size="7.6" text-anchor="middle" textLength="4.48" lengthAdjust="spacingAndGlyphs">4</text>
<line x1="115.55" y1="270.00" x2="115.55" y2="272.80" stroke="#111" stroke-width="0.9" />
<text x="115.55" y="283.30" font-size="7.6" text-anchor="middle" textLength="4.48" lengthAdjust="spacingAndGlyphs">5</text>
<line x1="127.10" y1="270.00" x2="127.10" y2="272.80" stroke="#111" stroke-width="0.9" />
<text x="127.10" y="283.30" font-size="7.6" text-anchor="middle" textLength="4.48" lengthAdjust="spacingAndGlyphs">6</text>
<line x1="138.65" y1="270.00" x2="138.65" y2="272.80" stroke="#111" stroke-width="0.9" />
<text x="138.65" y="283.30" font-size="7.6" text-anchor="middle" textLength="4.48" lengthAdjust="spacingAndGlyphs">7</text>
<line x1="150.20" y1="270.00" x2="150.20" y2="272.80" stroke="#111" stroke-width="0.9" />
<text x="150.20" y="283.30" font-size="7.6" text-anchor="middle" textLength="4.48" lengthAdjust="spacingAndGlyphs">8</text>
<line x1="161.75" y1="270.00" x2="161.75" y2="272.80" stroke="#111" stroke-width="0.9" />
<text x="161.75" y="283.30" font-size="7.6" text-anchor="middle" textLength="4.48" lengthAdjust="spacingAndGlyphs">9</text>
<line x1="173.30" y1="270.00" x2="173.30" y2="272.80" stroke="#111" stroke-width="0.9" />
<text x="173.30" y="283.30" font-size="7.6" text-anchor="middle" textLength="8.96" lengthAdjust="spacingAndGlyphs">10</text>
<line x1="184.85" y1="270.00" x2="184.85" y2="272.80" stroke="#111" stroke-width="0.9" />
<text x="184.85" y="283.30" font-size="7.6" text-anchor="middle" textLength="8.36" lengthAdjust="spacingAndGlyphs">11</text>
<line x1="196.40" y1="270.00" x2="196.40" y2="272.80" stroke="#111" stroke-width="0.9" />
<text x="196.40" y="283.30" font-size="7.6" text-anchor="middle" textLength="8.96" lengthAdjust="spacingAndGlyphs">12</text>
<line x1="207.95" y1="270.00" x2="207.95" y2="272.80" stroke="#111" stroke-width="0.9" />
<text x="207.95" y="283.30" font-size="7.6" text-anchor="middle" textLength="8.96" lengthAdjust="spacingAndGlyphs">13</text>
<line x1="219.50" y1="270.00" x2="219.50" y2="272.80" stroke="#111" stroke-width="0.9" />
<text x="219.50" y="283.30" font-size="7.6" text-anchor="middle" textLength="8.96" lengthAdjust="spacingAndGlyphs">14</text>
<text x="134.70" y="296.30" font-size="9.8" class="c" textLength="10.20" lengthAdjust="spacingAndGlyphs">Day</text>
<text class="c" transform="translate(25.90,224.00) rotate(-90)" x="0" y="0" font-size="9.4" text-anchor="middle" textLength="69.80" lengthAdjust="spacingAndGlyphs" fill="#222">Percentage of total cells</text>
<text class="c" transform="translate(261.50,223.90) rotate(-90)" x="0" y="0" font-size="9.4" text-anchor="middle" textLength="74.30" lengthAdjust="spacingAndGlyphs" fill="#222">Total telomerase products</text>
<text class="c" transform="translate(272.20,223.80) rotate(-90)" x="0" y="0" font-size="9.4" text-anchor="middle" textLength="28.00" lengthAdjust="spacingAndGlyphs" fill="#222">generated</text>
<rect x="53.90" y="222.80" width="3.90" height="47.20" fill="#b0082f"/>
<rect x="57.80" y="266.42" width="3.80" height="3.58" fill="#69ad3a"/>
<rect x="65.45" y="234.24" width="3.90" height="35.76" fill="#b0082f"/>
<rect x="69.35" y="269.11" width="3.80" height="0.89" fill="#69ad3a"/>
<rect x="77.00" y="218.59" width="3.90" height="51.41" fill="#b0082f"/>
<rect x="80.90" y="269.11" width="3.80" height="0.89" fill="#69ad3a"/>
<rect x="88.55" y="219.94" width="3.90" height="50.06" fill="#b0082f"/>
<rect x="92.45" y="266.25" width="3.80" height="3.75" fill="#69ad3a"/>
<rect x="100.10" y="225.75" width="3.90" height="44.25" fill="#b0082f"/>
<rect x="104.00" y="261.33" width="3.80" height="8.67" fill="#69ad3a"/>
<rect x="111.65" y="242.29" width="3.90" height="27.71" fill="#b0082f"/>
<rect x="115.55" y="257.84" width="3.80" height="12.16" fill="#69ad3a"/>
<rect x="123.20" y="257.22" width="3.90" height="12.78" fill="#b0082f"/>
<rect x="127.10" y="244.97" width="3.80" height="25.03" fill="#69ad3a"/>
<rect x="134.75" y="263.56" width="3.90" height="6.44" fill="#b0082f"/>
<rect x="138.65" y="236.92" width="3.80" height="33.08" fill="#69ad3a"/>
<rect x="169.40" y="266.16" width="3.90" height="3.84" fill="#b0082f"/>
<rect x="173.30" y="227.98" width="3.80" height="42.02" fill="#69ad3a"/>
<rect x="215.60" y="264.64" width="3.90" height="5.36" fill="#b0082f"/>
<rect x="219.50" y="258.02" width="3.80" height="11.98" fill="#69ad3a"/>
<polyline points="57.80,261.51 69.35,234.24 80.90,195.80 92.45,185.07 104.00,215.47 115.55,250.33 127.10,250.69 138.65,248.72 173.30,265.53 219.50,268.39" fill="none" stroke="#22488c" stroke-width="1.2" stroke-linejoin="round" />
<path d="M55.90,261.51L57.80,259.61L59.70,261.51L57.80,263.41Z" fill="#22488c"/>
<path d="M67.45,234.24L69.35,232.34L71.25,234.24L69.35,236.14Z" fill="#22488c"/>
<path d="M79.00,195.80L80.90,193.90L82.80,195.80L80.90,197.70Z" fill="#22488c"/>
<path d="M90.55,185.07L92.45,183.17L94.35,185.07L92.45,186.97Z" fill="#22488c"/>
<path d="M102.10,215.47L104.00,213.57L105.90,215.47L104.00,217.37Z" fill="#22488c"/>
<path d="M113.65,250.33L115.55,248.43L117.45,250.33L115.55,252.23Z" fill="#22488c"/>
<path d="M125.20,250.69L127.10,248.79L129.00,250.69L127.10,252.59Z" fill="#22488c"/>
<path d="M136.75,248.72L138.65,246.82L140.55,248.72L138.65,250.62Z" fill="#22488c"/>
<path d="M171.40,265.53L173.30,263.63L175.20,265.53L173.30,267.43Z" fill="#22488c"/>
<path d="M217.60,268.39L219.50,266.49L221.40,268.39L219.50,270.29Z" fill="#22488c"/>
<rect x="153.50" y="187.00" width="7.20" height="3.00" fill="#b0082f"/>
<rect x="153.50" y="199.30" width="7.20" height="3.00" fill="#69ad3a"/>
<line x1="153.50" y1="212.50" x2="160.70" y2="212.50" stroke="#22488c" stroke-width="1.1" />
<path d="M155.50,212.50L157.10,210.90L158.70,212.50L157.10,214.10Z" fill="#22488c"/>
<text x="164.00" y="191.10" font-size="7.8" textLength="48.00" lengthAdjust="spacingAndGlyphs">CD34+/CD41<tspan dy="-2.8" font-size="5">&#8722;</tspan></text>
<text x="164.00" y="203.30" font-size="7.8" textLength="48.00" lengthAdjust="spacingAndGlyphs">CD34&#8722;/CD41<tspan dy="-2.8" font-size="5">+</tspan></text>
<text x="164.00" y="214.40" font-size="7.8" textLength="59.60" lengthAdjust="spacingAndGlyphs">Telomerase activity</text>
<text x="289.80" y="173.10" font-size="11" font-weight="bold" style="fill:#000;stroke:#000;stroke-width:0.45px">E</text>
<line x1="333.60" y1="184.60" x2="333.60" y2="270.80" stroke="#111" stroke-width="1.3" />
<line x1="333.10" y1="270.30" x2="512.00" y2="270.30" stroke="#111" stroke-width="1.3" />
<line x1="330.80" y1="187.20" x2="333.60" y2="187.20" stroke="#111" stroke-width="0.9" />
<text x="328.00" y="189.80" font-size="7.6" text-anchor="end" textLength="13.44" lengthAdjust="spacingAndGlyphs">200</text>
<line x1="330.80" y1="203.80" x2="333.60" y2="203.80" stroke="#111" stroke-width="0.9" />
<text x="328.00" y="206.40" font-size="7.6" text-anchor="end" textLength="13.44" lengthAdjust="spacingAndGlyphs">150</text>
<line x1="330.80" y1="220.40" x2="333.60" y2="220.40" stroke="#111" stroke-width="0.9" />
<text x="328.00" y="223.00" font-size="7.6" text-anchor="end" textLength="13.44" lengthAdjust="spacingAndGlyphs">100</text>
<line x1="330.80" y1="237.00" x2="333.60" y2="237.00" stroke="#111" stroke-width="0.9" />
<text x="328.00" y="239.60" font-size="7.6" text-anchor="end" textLength="8.96" lengthAdjust="spacingAndGlyphs">50</text>
<line x1="330.80" y1="253.60" x2="333.60" y2="253.60" stroke="#111" stroke-width="0.9" />
<text x="328.00" y="256.20" font-size="7.6" text-anchor="end" textLength="4.48" lengthAdjust="spacingAndGlyphs">0</text>
<line x1="330.80" y1="270.20" x2="333.60" y2="270.20" stroke="#111" stroke-width="0.9" />
<text x="328.00" y="272.80" font-size="7.6" text-anchor="end" textLength="13.67" lengthAdjust="spacingAndGlyphs">&#8722;50</text>
<line x1="342.00" y1="270.30" x2="342.00" y2="273.10" stroke="#111" stroke-width="0.9" />
<text x="342.00" y="283.10" font-size="7.6" text-anchor="middle" textLength="4.48" lengthAdjust="spacingAndGlyphs">1</text>
<line x1="368.90" y1="270.30" x2="368.90" y2="273.10" stroke="#111" stroke-width="0.9" />
<text x="368.90" y="283.10" font-size="7.6" text-anchor="middle" textLength="4.48" lengthAdjust="spacingAndGlyphs">2</text>
<line x1="395.80" y1="270.30" x2="395.80" y2="273.10" stroke="#111" stroke-width="0.9" />
<text x="395.80" y="283.10" font-size="7.6" text-anchor="middle" textLength="4.48" lengthAdjust="spacingAndGlyphs">3</text>
<line x1="422.70" y1="270.30" x2="422.70" y2="273.10" stroke="#111" stroke-width="0.9" />
<text x="422.70" y="283.10" font-size="7.6" text-anchor="middle" textLength="4.48" lengthAdjust="spacingAndGlyphs">4</text>
<line x1="449.60" y1="270.30" x2="449.60" y2="273.10" stroke="#111" stroke-width="0.9" />
<text x="449.60" y="283.10" font-size="7.6" text-anchor="middle" textLength="4.48" lengthAdjust="spacingAndGlyphs">5</text>
<line x1="476.50" y1="270.30" x2="476.50" y2="273.10" stroke="#111" stroke-width="0.9" />
<text x="476.50" y="283.10" font-size="7.6" text-anchor="middle" textLength="4.48" lengthAdjust="spacingAndGlyphs">6</text>
<line x1="503.40" y1="270.30" x2="503.40" y2="273.10" stroke="#111" stroke-width="0.9" />
<text x="503.40" y="283.10" font-size="7.6" text-anchor="middle" textLength="4.48" lengthAdjust="spacingAndGlyphs">7</text>
<text x="412.90" y="293.50" font-size="9.8" class="c" textLength="10.90" lengthAdjust="spacingAndGlyphs">Day</text>
<text class="c" transform="translate(297.30,227.40) rotate(-90)" x="0" y="0" font-size="9.4" text-anchor="middle" textLength="56.60" lengthAdjust="spacingAndGlyphs" fill="#222">Telomerase activity,</text>
<text class="c" transform="translate(308.00,227.50) rotate(-90)" x="0" y="0" font-size="9.4" text-anchor="middle" textLength="62.40" lengthAdjust="spacingAndGlyphs" fill="#222">percentage of control</text>
<polyline points="342.00,220.40 368.90,244.64 395.80,244.64 422.70,252.60 449.60,250.51 476.50,249.52 503.40,245.76" fill="none" stroke="#5fae3c" stroke-width="1.2" stroke-linejoin="round" />
<polyline points="342.00,220.40 368.90,249.52 395.80,247.39 422.70,248.49 449.60,252.50 476.50,253.00 503.40,239.99" fill="none" stroke="#2a4f96" stroke-width="1.2" stroke-linejoin="round" />
<polyline points="342.00,220.40 368.90,253.60 395.80,252.01 422.70,254.26 449.60,254.26 476.50,251.28 503.40,250.01" fill="none" stroke="#b3173d" stroke-width="1.2" stroke-linejoin="round" />
<polyline points="342.00,220.40 368.90,236.67 395.80,232.02 422.70,247.69 449.60,252.01 476.50,250.01 503.40,231.26" fill="none" stroke="#5a2a84" stroke-width="1.2" stroke-linejoin="round" />
<polyline points="342.00,220.40 368.90,241.12 395.80,246.50 422.70,246.20 449.60,244.50 476.50,238.00 503.40,245.76" fill="none" stroke="#e9931f" stroke-width="1.2" stroke-linejoin="round" />
<path d="M340.60,221.52L343.40,221.52L342.00,219.00Z" fill="#5fae3c"/>
<path d="M367.50,245.76L370.30,245.76L368.90,243.24Z" fill="#5fae3c"/>
<path d="M394.40,245.76L397.20,245.76L395.80,243.24Z" fill="#5fae3c"/>
<path d="M421.30,253.72L424.10,253.72L422.70,251.20Z" fill="#5fae3c"/>
<path d="M448.20,251.63L451.00,251.63L449.60,249.11Z" fill="#5fae3c"/>
<path d="M475.10,250.64L477.90,250.64L476.50,248.12Z" fill="#5fae3c"/>
<path d="M502.00,246.88L504.80,246.88L503.40,244.36Z" fill="#5fae3c"/>
<path d="M340.60,219.00L343.40,221.80M340.60,221.80L343.40,219.00" stroke="#2a4f96" stroke-width="0.9"/>
<path d="M367.50,248.12L370.30,250.92M367.50,250.92L370.30,248.12" stroke="#2a4f96" stroke-width="0.9"/>
<path d="M394.40,245.99L397.20,248.79M394.40,248.79L397.20,245.99" stroke="#2a4f96" stroke-width="0.9"/>
<path d="M421.30,247.09L424.10,249.89M421.30,249.89L424.10,247.09" stroke="#2a4f96" stroke-width="0.9"/>
<path d="M448.20,251.10L451.00,253.90M448.20,253.90L451.00,251.10" stroke="#2a4f96" stroke-width="0.9"/>
<path d="M475.10,251.60L477.90,254.40M475.10,254.40L477.90,251.60" stroke="#2a4f96" stroke-width="0.9"/>
<path d="M502.00,238.59L504.80,241.39M502.00,241.39L504.80,238.59" stroke="#2a4f96" stroke-width="0.9"/>
<circle cx="342.00" cy="220.40" r="1.19" fill="#b3173d"/>
<circle cx="368.90" cy="253.60" r="1.19" fill="#b3173d"/>
<circle cx="395.80" cy="252.01" r="1.19" fill="#b3173d"/>
<circle cx="422.70" cy="254.26" r="1.19" fill="#b3173d"/>
<circle cx="449.60" cy="254.26" r="1.19" fill="#b3173d"/>
<circle cx="476.50" cy="251.28" r="1.19" fill="#b3173d"/>
<circle cx="503.40" cy="250.01" r="1.19" fill="#b3173d"/>
<path d="M340.60,219.00L343.40,221.80M340.60,221.80L343.40,219.00M342.00,219.00V221.80" stroke="#5a2a84" stroke-width="0.9"/>
<path d="M367.50,235.27L370.30,238.07M367.50,238.07L370.30,235.27M368.90,235.27V238.07" stroke="#5a2a84" stroke-width="0.9"/>
<path d="M394.40,230.62L397.20,233.42M394.40,233.42L397.20,230.62M395.80,230.62V233.42" stroke="#5a2a84" stroke-width="0.9"/>
<path d="M421.30,246.29L424.10,249.09M421.30,249.09L424.10,246.29M422.70,246.29V249.09" stroke="#5a2a84" stroke-width="0.9"/>
<path d="M448.20,250.61L451.00,253.41M448.20,253.41L451.00,250.61M449.60,250.61V253.41" stroke="#5a2a84" stroke-width="0.9"/>
<path d="M475.10,248.61L477.90,251.41M475.10,251.41L477.90,248.61M476.50,248.61V251.41" stroke="#5a2a84" stroke-width="0.9"/>
<path d="M502.00,229.86L504.80,232.66M502.00,232.66L504.80,229.86M503.40,229.86V232.66" stroke="#5a2a84" stroke-width="0.9"/>
<path d="M340.60,220.40L342.00,219.00L343.40,220.40L342.00,221.80Z" fill="#e9931f"/>
<path d="M367.50,241.12L368.90,239.72L370.30,241.12L368.90,242.52Z" fill="#e9931f"/>
<path d="M394.40,246.50L395.80,245.10L397.20,246.50L395.80,247.90Z" fill="#e9931f"/>
<path d="M421.30,246.20L422.70,244.80L424.10,246.20L422.70,247.60Z" fill="#e9931f"/>
<path d="M448.20,244.50L449.60,243.10L451.00,244.50L449.60,245.90Z" fill="#e9931f"/>
<path d="M475.10,238.00L476.50,236.60L477.90,238.00L476.50,239.40Z" fill="#e9931f"/>
<path d="M502.00,245.76L503.40,244.36L504.80,245.76L503.40,247.16Z" fill="#e9931f"/>
<line x1="413.80" y1="193.80" x2="423.80" y2="193.80" stroke="#e9931f" stroke-width="1.2" />
<path d="M417.30,193.80L418.80,192.30L420.30,193.80L418.80,195.30Z" fill="#e9931f"/>
<text x="427.00" y="196.40" font-size="7.2" textLength="57.50" lengthAdjust="spacingAndGlyphs">Imetelstat 0.9 &#956;M</text>
<line x1="413.80" y1="202.25" x2="423.80" y2="202.25" stroke="#2a4f96" stroke-width="1.2" />
<path d="M417.30,200.75L420.30,203.75M417.30,203.75L420.30,200.75" stroke="#2a4f96" stroke-width="0.9"/>
<text x="427.00" y="204.85" font-size="7.2" textLength="59.25" lengthAdjust="spacingAndGlyphs">Imetelstat 1.75 &#956;M</text>
<line x1="413.80" y1="210.70" x2="423.80" y2="210.70" stroke="#5a2a84" stroke-width="1.2" />
<path d="M417.30,209.20L420.30,212.20M417.30,212.20L420.30,209.20M418.80,209.20V212.20" stroke="#5a2a84" stroke-width="0.9"/>
<text x="427.00" y="213.30" font-size="7.2" textLength="59.25" lengthAdjust="spacingAndGlyphs">Imetelstat 3.75 &#956;M</text>
<line x1="413.80" y1="219.15" x2="423.80" y2="219.15" stroke="#5fae3c" stroke-width="1.2" />
<path d="M417.30,220.35L420.30,220.35L418.80,217.65Z" fill="#5fae3c"/>
<text x="427.00" y="221.75" font-size="7.2" textLength="55.00" lengthAdjust="spacingAndGlyphs">Imetelstat 7.5 &#956;M</text>
<line x1="413.80" y1="227.60" x2="423.80" y2="227.60" stroke="#b3173d" stroke-width="1.2" />
<circle cx="418.80" cy="227.60" r="1.27" fill="#b3173d"/>
<text x="427.00" y="230.20" font-size="7.2" textLength="59.25" lengthAdjust="spacingAndGlyphs">Imetelstat 15.0 &#956;M</text>
<text x="7.00" y="323.60" font-size="11" font-weight="bold" style="fill:#000;stroke:#000;stroke-width:0.45px">C</text>
<line x1="50.80" y1="328.30" x2="50.80" y2="420.00" stroke="#111" stroke-width="1.3" />
<line x1="50.30" y1="419.50" x2="228.50" y2="419.50" stroke="#111" stroke-width="1.3" />
<line x1="48.00" y1="419.50" x2="50.80" y2="419.50" stroke="#111" stroke-width="0.9" />
<text x="44.60" y="422.10" font-size="7.6" text-anchor="end" textLength="4.48" lengthAdjust="spacingAndGlyphs">0</text>
<line x1="48.00" y1="408.45" x2="50.80" y2="408.45" stroke="#111" stroke-width="0.9" />
<text x="44.60" y="411.05" font-size="7.6" text-anchor="end" textLength="8.96" lengthAdjust="spacingAndGlyphs">20</text>
<line x1="48.00" y1="397.40" x2="50.80" y2="397.40" stroke="#111" stroke-width="0.9" />
<text x="44.60" y="400.00" font-size="7.6" text-anchor="end" textLength="8.96" lengthAdjust="spacingAndGlyphs">40</text>
<line x1="48.00" y1="386.35" x2="50.80" y2="386.35" stroke="#111" stroke-width="0.9" />
<text x="44.60" y="388.95" font-size="7.6" text-anchor="end" textLength="8.96" lengthAdjust="spacingAndGlyphs">60</text>
<line x1="48.00" y1="375.30" x2="50.80" y2="375.30" stroke="#111" stroke-width="0.9" />
<text x="44.60" y="377.90" font-size="7.6" text-anchor="end" textLength="8.96" lengthAdjust="spacingAndGlyphs">80</text>
<line x1="48.00" y1="364.25" x2="50.80" y2="364.25" stroke="#111" stroke-width="0.9" />
<text x="44.60" y="366.85" font-size="7.6" text-anchor="end" textLength="13.44" lengthAdjust="spacingAndGlyphs">100</text>
<line x1="48.00" y1="353.20" x2="50.80" y2="353.20" stroke="#111" stroke-width="0.9" />
<text x="44.60" y="355.80" font-size="7.6" text-anchor="end" textLength="13.44" lengthAdjust="spacingAndGlyphs">120</text>
<line x1="48.00" y1="342.15" x2="50.80" y2="342.15" stroke="#111" stroke-width="0.9" />
<text x="44.60" y="344.75" font-size="7.6" text-anchor="end" textLength="13.44" lengthAdjust="spacingAndGlyphs">140</text>
<line x1="48.00" y1="331.10" x2="50.80" y2="331.10" stroke="#111" stroke-width="0.9" />
<text x="44.60" y="333.70" font-size="7.6" text-anchor="end" textLength="13.44" lengthAdjust="spacingAndGlyphs">160</text>
<line x1="58.20" y1="419.50" x2="58.20" y2="422.30" stroke="#111" stroke-width="0.9" />
<text x="58.20" y="433.20" font-size="7.6" text-anchor="middle" textLength="4.48" lengthAdjust="spacingAndGlyphs">0</text>
<line x1="69.86" y1="419.50" x2="69.86" y2="422.30" stroke="#111" stroke-width="0.9" />
<text x="69.86" y="433.20" font-size="7.6" text-anchor="middle" textLength="4.48" lengthAdjust="spacingAndGlyphs">1</text>
<line x1="81.52" y1="419.50" x2="81.52" y2="422.30" stroke="#111" stroke-width="0.9" />
<text x="81.52" y="433.20" font-size="7.6" text-anchor="middle" textLength="4.48" lengthAdjust="spacingAndGlyphs">2</text>
<line x1="93.18" y1="419.50" x2="93.18" y2="422.30" stroke="#111" stroke-width="0.9" />
<text x="93.18" y="433.20" font-size="7.6" text-anchor="middle" textLength="4.48" lengthAdjust="spacingAndGlyphs">3</text>
<line x1="104.84" y1="419.50" x2="104.84" y2="422.30" stroke="#111" stroke-width="0.9" />
<text x="104.84" y="433.20" font-size="7.6" text-anchor="middle" textLength="4.48" lengthAdjust="spacingAndGlyphs">4</text>
<line x1="116.50" y1="419.50" x2="116.50" y2="422.30" stroke="#111" stroke-width="0.9" />
<text x="116.50" y="433.20" font-size="7.6" text-anchor="middle" textLength="4.48" lengthAdjust="spacingAndGlyphs">5</text>
<line x1="128.16" y1="419.50" x2="128.16" y2="422.30" stroke="#111" stroke-width="0.9" />
<text x="128.16" y="433.20" font-size="7.6" text-anchor="middle" textLength="4.48" lengthAdjust="spacingAndGlyphs">6</text>
<line x1="139.82" y1="419.50" x2="139.82" y2="422.30" stroke="#111" stroke-width="0.9" />
<text x="139.82" y="433.20" font-size="7.6" text-anchor="middle" textLength="4.48" lengthAdjust="spacingAndGlyphs">7</text>
<line x1="151.48" y1="419.50" x2="151.48" y2="422.30" stroke="#111" stroke-width="0.9" />
<text x="151.48" y="433.20" font-size="7.6" text-anchor="middle" textLength="4.48" lengthAdjust="spacingAndGlyphs">8</text>
<line x1="163.14" y1="419.50" x2="163.14" y2="422.30" stroke="#111" stroke-width="0.9" />
<text x="163.14" y="433.20" font-size="7.6" text-anchor="middle" textLength="4.48" lengthAdjust="spacingAndGlyphs">9</text>
<line x1="174.80" y1="419.50" x2="174.80" y2="422.30" stroke="#111" stroke-width="0.9" />
<text x="174.80" y="433.20" font-size="7.6" text-anchor="middle" textLength="8.96" lengthAdjust="spacingAndGlyphs">10</text>
<line x1="186.46" y1="419.50" x2="186.46" y2="422.30" stroke="#111" stroke-width="0.9" />
<text x="186.46" y="433.20" font-size="7.6" text-anchor="middle" textLength="8.36" lengthAdjust="spacingAndGlyphs">11</text>
<line x1="198.12" y1="419.50" x2="198.12" y2="422.30" stroke="#111" stroke-width="0.9" />
<text x="198.12" y="433.20" font-size="7.6" text-anchor="middle" textLength="8.96" lengthAdjust="spacingAndGlyphs">12</text>
<line x1="209.78" y1="419.50" x2="209.78" y2="422.30" stroke="#111" stroke-width="0.9" />
<text x="209.78" y="433.20" font-size="7.6" text-anchor="middle" textLength="8.96" lengthAdjust="spacingAndGlyphs">13</text>
<line x1="221.44" y1="419.50" x2="221.44" y2="422.30" stroke="#111" stroke-width="0.9" />
<text x="221.44" y="433.20" font-size="7.6" text-anchor="middle" textLength="8.96" lengthAdjust="spacingAndGlyphs">14</text>
<text x="135.20" y="445.50" font-size="9.8" class="c" textLength="10.60" lengthAdjust="spacingAndGlyphs">Day</text>
<text class="c" transform="translate(26.00,373.80) rotate(-90)" x="0" y="0" font-size="9.4" text-anchor="middle" textLength="60.00" lengthAdjust="spacingAndGlyphs" fill="#222">Total cells/mL (x10<tspan dy="-3" font-size="6">4</tspan><tspan dy="3">)</tspan></text>
<rect x="53.23" y="418.67" width="1.47" height="0.83" fill="#e9931f"/>
<rect x="54.65" y="418.39" width="1.47" height="1.10" fill="#4ea6e2"/>
<rect x="56.07" y="418.67" width="1.47" height="0.83" fill="#5a2a84"/>
<rect x="57.49" y="418.67" width="1.47" height="0.83" fill="#5fae3c"/>
<rect x="58.91" y="418.67" width="1.47" height="0.83" fill="#b3173d"/>
<rect x="60.33" y="418.67" width="1.47" height="0.83" fill="#27488c"/>
<rect x="61.75" y="418.67" width="1.47" height="0.83" fill="#8290cc"/>
<rect x="64.89" y="418.67" width="1.47" height="0.83" fill="#e9931f"/>
<rect x="66.31" y="418.67" width="1.47" height="0.83" fill="#4ea6e2"/>
<rect x="67.73" y="418.67" width="1.47" height="0.83" fill="#5a2a84"/>
<rect x="69.15" y="418.67" width="1.47" height="0.83" fill="#5fae3c"/>
<rect x="70.57" y="418.67" width="1.47" height="0.83" fill="#b3173d"/>
<rect x="71.99" y="418.67" width="1.47" height="0.83" fill="#27488c"/>
<rect x="73.41" y="418.67" width="1.47" height="0.83" fill="#8290cc"/>
<rect x="76.55" y="418.39" width="1.47" height="1.10" fill="#e9931f"/>
<rect x="77.97" y="418.39" width="1.47" height="1.10" fill="#4ea6e2"/>
<rect x="79.39" y="418.39" width="1.47" height="1.10" fill="#5a2a84"/>
<rect x="80.81" y="418.39" width="1.47" height="1.10" fill="#5fae3c"/>
<rect x="82.23" y="418.39" width="1.47" height="1.10" fill="#b3173d"/>
<rect x="83.65" y="418.39" width="1.47" height="1.10" fill="#27488c"/>
<rect x="85.07" y="418.39" width="1.47" height="1.10" fill="#8290cc"/>
<rect x="88.21" y="417.84" width="1.47" height="1.66" fill="#e9931f"/>
<rect x="89.63" y="416.74" width="1.47" height="2.76" fill="#4ea6e2"/>
<rect x="91.05" y="417.01" width="1.47" height="2.49" fill="#5a2a84"/>
<rect x="92.47" y="417.29" width="1.47" height="2.21" fill="#5fae3c"/>
<rect x="93.89" y="417.29" width="1.47" height="2.21" fill="#b3173d"/>
<rect x="95.31" y="417.29" width="1.47" height="2.21" fill="#27488c"/>
<rect x="96.73" y="417.29" width="1.47" height="2.21" fill="#8290cc"/>
<rect x="99.87" y="414.20" width="1.47" height="5.30" fill="#e9931f"/>
<rect x="101.29" y="415.80" width="1.47" height="3.70" fill="#4ea6e2"/>
<rect x="102.71" y="415.41" width="1.47" height="4.09" fill="#5a2a84"/>
<rect x="104.13" y="413.81" width="1.47" height="5.69" fill="#5fae3c"/>
<rect x="105.55" y="415.63" width="1.47" height="3.87" fill="#b3173d"/>
<rect x="106.97" y="414.58" width="1.47" height="4.92" fill="#27488c"/>
<rect x="108.39" y="413.31" width="1.47" height="6.19" fill="#8290cc"/>
<rect x="111.53" y="409.39" width="1.47" height="10.11" fill="#e9931f"/>
<rect x="112.95" y="407.90" width="1.47" height="11.60" fill="#4ea6e2"/>
<rect x="114.37" y="410.99" width="1.47" height="8.51" fill="#5a2a84"/>
<rect x="115.79" y="410.99" width="1.47" height="8.51" fill="#5fae3c"/>
<rect x="117.21" y="410.99" width="1.47" height="8.51" fill="#b3173d"/>
<rect x="118.63" y="410.99" width="1.47" height="8.51" fill="#27488c"/>
<rect x="120.05" y="411.21" width="1.47" height="8.29" fill="#8290cc"/>
<rect x="123.19" y="403.09" width="1.47" height="16.41" fill="#e9931f"/>
<rect x="124.61" y="403.70" width="1.47" height="15.80" fill="#4ea6e2"/>
<rect x="126.03" y="405.02" width="1.47" height="14.48" fill="#5a2a84"/>
<rect x="127.45" y="405.41" width="1.47" height="14.09" fill="#5fae3c"/>
<rect x="128.87" y="406.02" width="1.47" height="13.48" fill="#b3173d"/>
<rect x="130.29" y="406.02" width="1.47" height="13.48" fill="#27488c"/>
<rect x="131.71" y="402.37" width="1.47" height="17.13" fill="#8290cc"/>
<rect x="134.85" y="395.02" width="1.47" height="24.48" fill="#e9931f"/>
<rect x="136.27" y="388.84" width="1.47" height="30.66" fill="#4ea6e2"/>
<rect x="137.69" y="398.78" width="1.47" height="20.72" fill="#5a2a84"/>
<rect x="139.11" y="396.85" width="1.47" height="22.65" fill="#5fae3c"/>
<rect x="140.53" y="397.95" width="1.47" height="21.55" fill="#b3173d"/>
<rect x="141.95" y="388.73" width="1.47" height="30.77" fill="#27488c"/>
<rect x="143.37" y="396.85" width="1.47" height="22.65" fill="#8290cc"/>
<rect x="169.83" y="342.98" width="1.47" height="76.52" fill="#e9931f"/>
<rect x="171.25" y="355.96" width="1.47" height="63.54" fill="#4ea6e2"/>
<rect x="172.67" y="363.70" width="1.47" height="55.80" fill="#5a2a84"/>
<rect x="174.09" y="366.79" width="1.47" height="52.71" fill="#5fae3c"/>
<rect x="175.51" y="360.00" width="1.47" height="59.50" fill="#b3173d"/>
<rect x="176.93" y="341.82" width="1.47" height="77.68" fill="#27488c"/>
<rect x="178.35" y="349.72" width="1.47" height="69.78" fill="#8290cc"/>
<rect x="216.47" y="399.50" width="1.47" height="20.00" fill="#e9931f"/>
<rect x="217.89" y="394.53" width="1.47" height="24.97" fill="#4ea6e2"/>
<rect x="219.31" y="397.95" width="1.47" height="21.55" fill="#5a2a84"/>
<rect x="220.73" y="394.08" width="1.47" height="25.41" fill="#5fae3c"/>
<rect x="222.15" y="400.00" width="1.47" height="19.50" fill="#b3173d"/>
<rect x="223.57" y="409.56" width="1.47" height="9.95" fill="#27488c"/>
<rect x="224.99" y="408.73" width="1.47" height="10.77" fill="#8290cc"/>
<rect x="62.60" y="331.45" width="2.10" height="2.10" fill="#e9931f"/>
<text x="68.00" y="334.80" font-size="7.5" textLength="55.40" lengthAdjust="spacingAndGlyphs">Imetelstat 0.9 &#956;M</text>
<rect x="62.60" y="339.75" width="2.10" height="2.10" fill="#4ea6e2"/>
<text x="68.00" y="343.10" font-size="7.5" textLength="63.50" lengthAdjust="spacingAndGlyphs">Imetelstat 1.875 &#956;M</text>
<rect x="62.60" y="348.05" width="2.10" height="2.10" fill="#5a2a84"/>
<text x="68.00" y="351.40" font-size="7.5" textLength="59.70" lengthAdjust="spacingAndGlyphs">Imetelstat 3.75 &#956;M</text>
<rect x="62.60" y="356.35" width="2.10" height="2.10" fill="#5fae3c"/>
<text x="68.00" y="359.70" font-size="7.5" textLength="54.20" lengthAdjust="spacingAndGlyphs">Imetelstat 7.5 &#956;M</text>
<rect x="62.60" y="364.65" width="2.10" height="2.10" fill="#b3173d"/>
<text x="68.00" y="368.00" font-size="7.5" textLength="53.60" lengthAdjust="spacingAndGlyphs">Imetelstat 15 &#956;M</text>
<rect x="62.60" y="372.95" width="2.10" height="2.10" fill="#27488c"/>
<text x="68.00" y="376.30" font-size="7.5" textLength="52.80" lengthAdjust="spacingAndGlyphs">Standard control</text>
<rect x="62.60" y="381.25" width="2.10" height="2.10" fill="#8290cc"/>
<text x="68.00" y="384.60" font-size="7.5" textLength="47.60" lengthAdjust="spacingAndGlyphs">Solvent control</text>
<text x="245.30" y="323.60" font-size="11" font-weight="bold" style="fill:#000;stroke:#000;stroke-width:0.45px">F</text>
<rect x="282.4" y="346.3" width="77.0" height="73.09999999999997" fill="none" stroke="#111" stroke-width="1.1"/>
<text x="279.30" y="422.00" font-size="7.4" text-anchor="end" textLength="20.60" lengthAdjust="spacingAndGlyphs">0.000</text>
<text x="279.30" y="407.38" font-size="7.4" text-anchor="end" textLength="20.60" lengthAdjust="spacingAndGlyphs">0.005</text>
<text x="279.30" y="392.76" font-size="7.4" text-anchor="end" textLength="20.60" lengthAdjust="spacingAndGlyphs">0.010</text>
<text x="279.30" y="378.14" font-size="7.4" text-anchor="end" textLength="20.60" lengthAdjust="spacingAndGlyphs">0.015</text>
<text x="279.30" y="363.52" font-size="7.4" text-anchor="end" textLength="20.60" lengthAdjust="spacingAndGlyphs">0.020</text>
<text x="279.30" y="348.90" font-size="7.4" text-anchor="end" textLength="20.60" lengthAdjust="spacingAndGlyphs">0.025</text>
<text class="c" transform="translate(253.50,383.00) rotate(-90)" x="0" y="0" font-size="9.2" text-anchor="middle" textLength="71.90" lengthAdjust="spacingAndGlyphs" fill="#222">hTERT mRNA expression</text>
<path d="M301.6,358.6 V356.8 H334.6 V358.6" fill="none" stroke="#333" stroke-width="0.9"/>
<text x="303.80" y="353.00" font-size="7.3" textLength="28.50" lengthAdjust="spacingAndGlyphs">p = 0.03</text>
<circle cx="306.20" cy="402.90" r="1.32" fill="#27488c"/>
<circle cx="306.20" cy="405.50" r="1.32" fill="#27488c"/>
<circle cx="306.20" cy="408.00" r="1.32" fill="#27488c"/>
<circle cx="306.20" cy="410.80" r="1.32" fill="#27488c"/>
<circle cx="306.20" cy="413.30" r="1.32" fill="#27488c"/>
<circle cx="306.20" cy="416.30" r="1.32" fill="#27488c"/>
<circle cx="335.80" cy="363.80" r="1.32" fill="#b3173d"/>
<circle cx="335.80" cy="373.00" r="1.32" fill="#b3173d"/>
<circle cx="335.80" cy="389.10" r="1.32" fill="#b3173d"/>
<circle cx="335.80" cy="395.20" r="1.32" fill="#b3173d"/>
<circle cx="335.80" cy="400.70" r="1.32" fill="#b3173d"/>
<circle cx="335.80" cy="403.50" r="1.32" fill="#b3173d"/>
<circle cx="335.80" cy="405.20" r="1.32" fill="#b3173d"/>
<circle cx="335.80" cy="406.90" r="1.32" fill="#b3173d"/>
<circle cx="335.80" cy="408.60" r="1.32" fill="#b3173d"/>
<circle cx="335.80" cy="410.30" r="1.32" fill="#b3173d"/>
<circle cx="335.80" cy="412.00" r="1.32" fill="#b3173d"/>
<circle cx="335.80" cy="414.00" r="1.32" fill="#b3173d"/>
<circle cx="335.80" cy="418.00" r="1.32" fill="#b3173d"/>
<line x1="302.20" y1="410.90" x2="310.00" y2="410.90" stroke="#111" stroke-width="1.2" />
<line x1="331.30" y1="401.80" x2="339.40" y2="401.80" stroke="#111" stroke-width="1.2" />
<text x="291.10" y="429.80" font-size="7.4" textLength="25.50" lengthAdjust="spacingAndGlyphs">Healthy</text>
<text x="332.90" y="429.80" font-size="7.4" textLength="8.90" lengthAdjust="spacingAndGlyphs">ET</text>
<text x="291.70" y="439.40" font-size="7.4" textLength="22.80" lengthAdjust="spacingAndGlyphs">N = 11</text>
<text x="325.50" y="439.40" font-size="7.4" textLength="23.40" lengthAdjust="spacingAndGlyphs">N = 21</text>
<text x="374.70" y="324.40" font-size="11" font-weight="bold" style="fill:#000;stroke:#000;stroke-width:0.45px">G</text>
<rect x="411.5" y="343.8" width="85.89999999999998" height="75.39999999999998" fill="none" stroke="#111" stroke-width="1.1"/>
<text x="407.90" y="421.90" font-size="7.4" text-anchor="end" textLength="19.40" lengthAdjust="spacingAndGlyphs">0.000</text>
<text x="407.90" y="410.00" font-size="7.4" text-anchor="end" textLength="19.40" lengthAdjust="spacingAndGlyphs">0.002</text>
<text x="407.90" y="396.90" font-size="7.4" text-anchor="end" textLength="19.40" lengthAdjust="spacingAndGlyphs">0.004</text>
<text x="407.90" y="385.20" font-size="7.4" text-anchor="end" textLength="19.40" lengthAdjust="spacingAndGlyphs">0.006</text>
<text x="407.90" y="372.00" font-size="7.4" text-anchor="end" textLength="19.40" lengthAdjust="spacingAndGlyphs">0.008</text>
<text x="407.90" y="358.80" font-size="7.4" text-anchor="end" textLength="19.40" lengthAdjust="spacingAndGlyphs">0.010</text>
<text x="407.90" y="347.00" font-size="7.4" text-anchor="end" textLength="19.40" lengthAdjust="spacingAndGlyphs">0.012</text>
<text class="c" transform="translate(382.90,381.80) rotate(-90)" x="0" y="0" font-size="9.2" text-anchor="middle" textLength="72.00" lengthAdjust="spacingAndGlyphs" fill="#222">hTERT mRNA expression</text>
<polyline points="434.00,352.90 474.70,403.10" fill="none" stroke="#4ea3e0" stroke-width="1.2" stroke-linejoin="round" />
<polyline points="434.00,395.80 474.70,411.40" fill="none" stroke="#b3173d" stroke-width="1.2" stroke-linejoin="round" />
<polyline points="434.00,397.60 474.70,407.00" fill="none" stroke="#f0b21e" stroke-width="1.2" stroke-linejoin="round" />
<rect x="433.10" y="352.00" width="1.80" height="1.80" fill="#4ea3e0"/>
<rect x="473.80" y="402.20" width="1.80" height="1.80" fill="#4ea3e0"/>
<rect x="433.10" y="396.70" width="1.80" height="1.80" fill="#f0b21e"/>
<rect x="473.80" y="406.10" width="1.80" height="1.80" fill="#f0b21e"/>
<rect x="433.10" y="394.90" width="1.80" height="1.80" fill="#b3173d"/>
<rect x="473.80" y="410.50" width="1.80" height="1.80" fill="#b3173d"/>
<text x="434.40" y="429.70" font-size="7.4" text-anchor="middle" textLength="21.40" lengthAdjust="spacingAndGlyphs">before</text>
<text x="433.90" y="440.00" font-size="7.4" text-anchor="middle" textLength="32.80" lengthAdjust="spacingAndGlyphs">Imetelstat</text>
<text x="434.10" y="448.80" font-size="7.4" text-anchor="middle" textLength="33.30" lengthAdjust="spacingAndGlyphs">Treatment</text>
<text x="474.70" y="429.70" font-size="7.4" text-anchor="middle" textLength="14.50" lengthAdjust="spacingAndGlyphs">with</text>
<text x="475.10" y="440.00" font-size="7.4" text-anchor="middle" textLength="32.70" lengthAdjust="spacingAndGlyphs">Imetelstat</text>
<text x="474.70" y="448.80" font-size="7.4" text-anchor="middle" textLength="33.50" lengthAdjust="spacingAndGlyphs">Treatment</text>
<rect x="0.6" y="0.5" width="518.8" height="456.7" fill="none" stroke="#000" stroke-width="1.2"/>
</svg>
</body></html>
